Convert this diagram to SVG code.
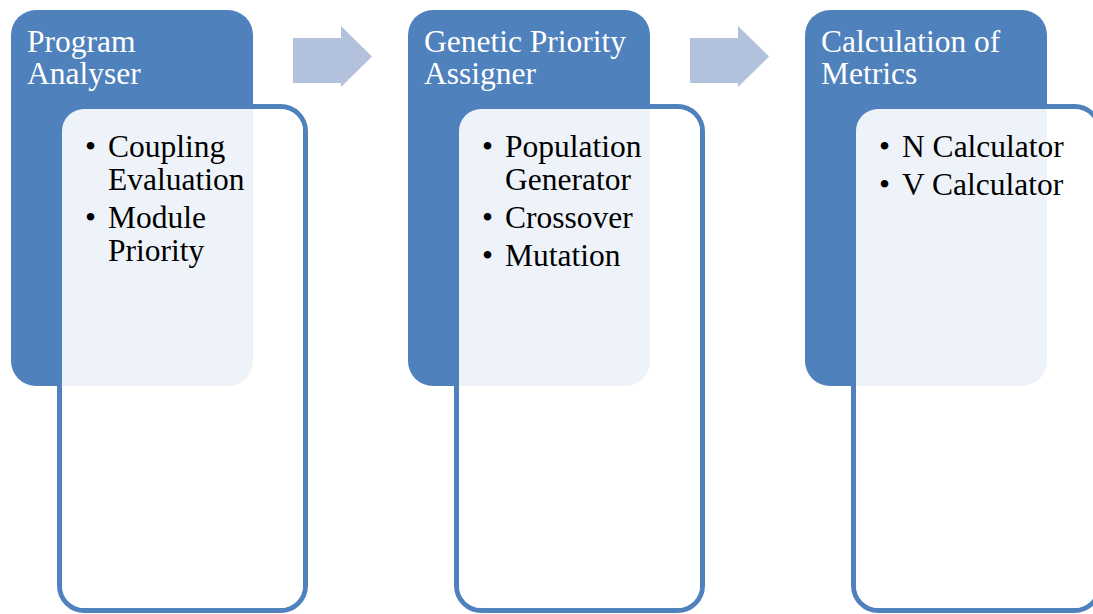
<svg xmlns="http://www.w3.org/2000/svg" width="1093" height="614" viewBox="0 0 1093 614">
<style>
.hdr{fill:#4f81bd}
.box{fill:#ffffff;stroke:#4f81bd;stroke-width:5}
.veil{fill:#ffffff;fill-opacity:0.9}
.arr{fill:#b2c2dc}
.ht{font-family:"Liberation Serif","Times New Roman",serif;font-size:31.5px;fill:#ffffff}
.bt{font-family:"Liberation Serif","Times New Roman",serif;font-size:31.5px;fill:#000000}
</style>
<rect width="1093" height="614" fill="#ffffff"/>
<g id="connectors">
<polygon class="arr" points="293,38 341,38 341,26 372,56.5 341,87 341,83 293,83" transform="translate(0,0)"/>
<polygon class="arr" points="293,38 341,38 341,26 372,56.5 341,87 341,83 293,83" transform="translate(397,0)"/>
</g>
<g id="node-program-analyser">
<rect class="box" x="59.5" y="106.5" width="246" height="504" rx="25"/>
<rect class="hdr" x="11" y="10" width="242" height="376" rx="25"/>
<rect class="veil" x="62" y="109" width="241" height="499" rx="22"/>
<text class="ht" x="27" y="52">Program</text>
<text class="ht" x="27" y="83.5">Analyser</text>
<text class="bt" x="85" y="157">•</text>
<text class="bt" x="108" y="157">Coupling</text>
<text class="bt" x="108" y="190">Evaluation</text>
<text class="bt" x="85" y="228">•</text>
<text class="bt" x="108" y="228">Module</text>
<text class="bt" x="108" y="261">Priority</text>
</g>
<g id="node-genetic-priority-assigner">
<rect class="box" x="456.5" y="106.5" width="246" height="504" rx="25"/>
<rect class="hdr" x="408" y="10" width="242" height="376" rx="25"/>
<rect class="veil" x="459" y="109" width="241" height="499" rx="22"/>
<text class="ht" x="424" y="52">Genetic Priority</text>
<text class="ht" x="424" y="83.5">Assigner</text>
<text class="bt" x="482" y="157">•</text>
<text class="bt" x="505" y="157">Population</text>
<text class="bt" x="505" y="190">Generator</text>
<text class="bt" x="482" y="228">•</text>
<text class="bt" x="505" y="228">Crossover</text>
<text class="bt" x="482" y="266">•</text>
<text class="bt" x="505" y="266">Mutation</text>
</g>
<g id="node-calculation-of-metrics">
<rect class="box" x="853.5" y="106.5" width="246" height="504" rx="25"/>
<rect class="hdr" x="805" y="10" width="242" height="376" rx="25"/>
<rect class="veil" x="856" y="109" width="241" height="499" rx="22"/>
<text class="ht" x="821" y="52">Calculation of</text>
<text class="ht" x="821" y="83.5">Metrics</text>
<text class="bt" x="879" y="157">•</text>
<text class="bt" x="902" y="157">N Calculator</text>
<text class="bt" x="879" y="195">•</text>
<text class="bt" x="902" y="195">V Calculator</text>
</g>
</svg>
